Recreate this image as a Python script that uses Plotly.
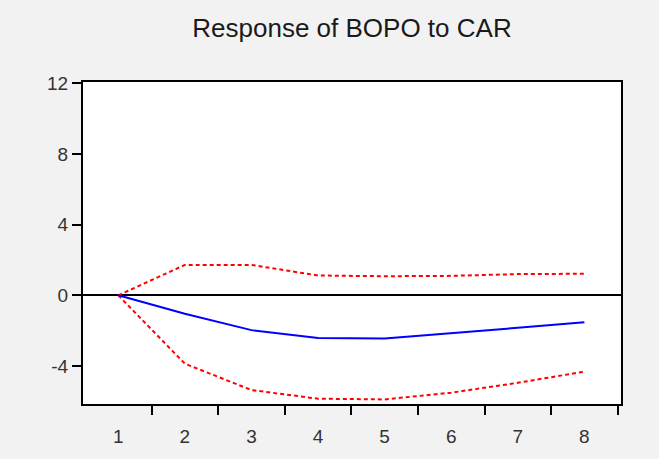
import plotly.graph_objects as go

periods = [1, 2, 3, 4, 5, 6, 7, 8]
response = [0.0, -1.04, -1.97, -2.42, -2.44, -2.16, -1.84, -1.53]
upper_band = [0.0, 1.72, 1.72, 1.12, 1.08, 1.10, 1.20, 1.22]
lower_band = [0.0, -3.87, -5.36, -5.85, -5.89, -5.51, -4.95, -4.32]
x_tick_labels = ["1", "2", "3", "4", "5", "6", "7", "8"]
x_minor_ticks = [p + 0.5 for p in periods]
y_ticks = [-4, 0, 4, 8, 12]
y_tick_labels = ["-4", "0", "4", "8", "12"]
title_text = "Response of BOPO to CAR"

fig = go.Figure()
fig.add_trace(go.Scatter(x=periods, y=upper_band, mode="lines",
                         line=dict(color="#ff0000", width=2, dash="4px,3px"),
                         showlegend=False, hoverinfo="skip"))
fig.add_trace(go.Scatter(x=periods, y=lower_band, mode="lines",
                         line=dict(color="#ff0000", width=2, dash="4px,3px"),
                         showlegend=False, hoverinfo="skip"))
fig.add_trace(go.Scatter(x=periods, y=response, mode="lines",
                         line=dict(color="#0000ff", width=2),
                         showlegend=False))

fig.update_layout(
    width=659, height=459,
    margin=dict(l=83, r=38, t=82, b=51),
    paper_bgcolor="#f2f2f2",
    plot_bgcolor="#ffffff",
    title=dict(text=title_text, x=0.5, xref="paper", xanchor="center",
               y=1 - 28 / 459, yref="container", yanchor="middle",
               font=dict(family="Liberation Sans, Arial, sans-serif", size=26, color="#1a1a1a")),
    font=dict(family="Liberation Sans, Arial, sans-serif", size=19, color="#333333"),
)

fig.update_xaxes(
    range=[0.47, 8.55],
    tickvals=periods, ticktext=x_tick_labels,
    ticks="", ticklen=0,
    ticklabelstandoff=14,
    showgrid=False, zeroline=False,
    showline=True, linecolor="#000000", linewidth=2, mirror=True,
    minor=dict(tickvals=x_minor_ticks, ticks="outside", ticklen=9,
               tickwidth=2, tickcolor="#000000", showgrid=False),
)
fig.update_yaxes(
    range=[-6.15, 12.07],
    tickvals=y_ticks, ticktext=y_tick_labels,
    ticks="outside", ticklen=9, tickwidth=2, tickcolor="#000000",
    showgrid=False,
    zeroline=True, zerolinecolor="#000000", zerolinewidth=2,
    showline=True, linecolor="#000000", linewidth=2, mirror=True,
)

fig.write_html(
    "out.html",
    config={"displayModeBar": False},
    post_script="document.body.style.margin='0';document.body.style.padding='0';"
                "document.body.style.background='#f2f2f2';",
)
